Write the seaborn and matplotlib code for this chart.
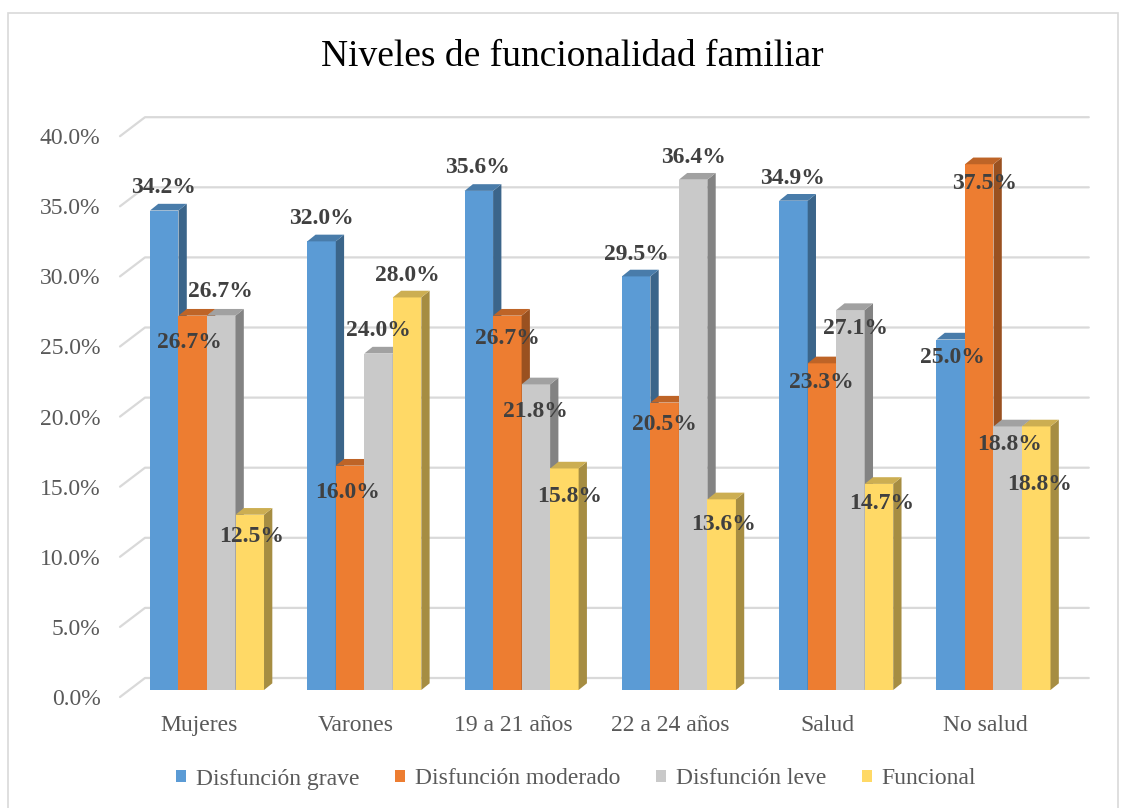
import pandas as pd
import seaborn as sns
import matplotlib.pyplot as plt
from matplotlib.patches import Polygon, Patch, Rectangle
from matplotlib.colors import to_rgb

grupos = ["Mujeres", "Varones", "19 a 21 años", "22 a 24 años", "Salud", "No salud"]
niveles = ["Disfunción grave", "Disfunción moderado", "Disfunción leve", "Funcional"]
grave = [34.2, 32.0, 35.6, 29.5, 34.9, 25.0]
moderado = [26.7, 16.0, 26.7, 20.5, 23.3, 37.5]
leve = [26.7, 24.0, 21.8, 36.4, 27.1, 18.8]
funcional = [12.5, 28.0, 15.8, 13.6, 14.7, 18.8]
y_ticks = [0, 5, 10, 15, 20, 25, 30, 35, 40]

colores = ["#5B9BD5", "#ED7D31", "#C9C9C9", "#FFD966"]

# where excel put each value label, in pixels from the bar top (group by group)
label_off = [
    (-1, 23), (-3, -27), (-1, 24), (2, -22),
    (0, 23), (-2, -27), (0, 23), (0, 22),
    (-1, 23), (0, -23), (0, -27), (5, -28),
    (0, 22), (0, -22), (0, 22), (2, -25),
    (-1, 22), (-1, -19), (5, -18), (3, -20),
    (2, -18), (5, -19), (2, -18), (3, -58),
]

df = pd.DataFrame({
    "Grupo": grupos * 4,
    "Nivel": sum([[n] * len(grupos) for n in niveles], []),
    "Porcentaje": grave + moderado + leve + funcional,
})

sns.set_style("white")
plt.rcParams["font.family"] = ["Liberation Serif", "DejaVu Serif"]

W, H = 1126, 808
fig = plt.figure(figsize=(W / 100, H / 100), dpi=100)

# pixel geometry of the fake 3d box
px_cat = 157.3   # px per category
px_pct = 14.02   # px per percent
ux, uy = 1 / px_cat, 1 / px_pct
bar_dx, bar_dy = 8.35 * ux, 7 * uy      # bars sit a bit behind the front plane
side_dx, side_dy = 8.3 * ux, 6.7 * uy   # bar depth
wall_dx, wall_dy = 25 * ux, 19 * uy     # back wall
ytop = 42

ax_w = (6 + wall_dx) * px_cat
ax_h = ytop * px_pct
ax = fig.add_axes([120 / W, (H - 697) / H, ax_w / W, ax_h / H])

sns.barplot(data=df, x="Grupo", y="Porcentaje", hue="Nivel", order=grupos,
            hue_order=niveles, palette=colores, saturation=1, width=0.725,
            linewidth=0, legend=False, ax=ax)

ax.set_xlim(-0.5, 5.5 + wall_dx)
ax.set_ylim(0, ytop)

# gridlines on the back wall + left side wall
for t in y_ticks:
    ax.plot([-0.5, -0.5 + wall_dx, 5.5 + wall_dx], [t, t + wall_dy, t + wall_dy],
            color="#D9D9D9", lw=1.6, zorder=0.5, clip_on=False)

bars = sorted([p for p in ax.patches if p.get_height() > 0], key=lambda p: p.get_x())
for i, p in enumerate(bars):
    x0 = p.get_x() + bar_dx
    w = p.get_width()
    h = p.get_height()
    p.set_x(x0)
    p.set_y(bar_dy)
    y1 = bar_dy + h
    base = to_rgb(p.get_facecolor())
    side_c = tuple(c * 0.65 for c in base)
    top_c = tuple(c * 0.8 for c in base)
    z = 3 + i * 3
    p.set_zorder(z)
    side = Polygon([(x0 + w, bar_dy), (x0 + w + side_dx, bar_dy + side_dy),
                    (x0 + w + side_dx, y1 + side_dy), (x0 + w, y1)],
                   closed=True, facecolor=side_c, lw=0, zorder=z + 1)
    top = Polygon([(x0, y1), (x0 + w, y1), (x0 + w + side_dx, y1 + side_dy),
                   (x0 + side_dx, y1 + side_dy)],
                  closed=True, facecolor=top_c, lw=0, zorder=z + 2)
    ax.add_patch(side)
    ax.add_patch(top)
    dx, dy = label_off[i]
    ax.annotate(f"{h:.1f}%", (x0 + w / 2, y1), xytext=(dx, dy),
                textcoords="offset pixels", ha="center", va="center",
                fontsize=17, fontweight="bold", color="#404040",
                zorder=200, annotation_clip=False)

ax.set_yticks(y_ticks)
ax.set_yticklabels([f"{t:.1f}%" for t in y_ticks])
ax.set_xticks(range(len(grupos)))
ax.set_xticklabels(grupos)
ax.tick_params(axis="y", length=0, pad=14, labelsize=17, labelcolor="#595959")
ax.tick_params(axis="x", length=0, pad=13, labelsize=17, labelcolor="#595959")
ax.set_xlabel("")
ax.set_ylabel("")
sns.despine(ax=ax, left=True, bottom=True)
ax.patch.set_alpha(0)

fig.text(572.5 / W, 1 - 57 / H, "Niveles de funcionalidad familiar",
         ha="center", va="center", fontsize=27, color="black")

handles = [Patch(facecolor=c, edgecolor="none") for c in colores]
fig.legend(handles, niveles, loc="center", bbox_to_anchor=(576 / W, 1 - 779 / H),
           ncol=4, frameon=False, fontsize=17, labelcolor="#595959",
           handlelength=0.45, handleheight=0.45, handletextpad=0.4,
           columnspacing=1.5)

fig.add_artist(Rectangle((8 / W, -0.01), (1118 - 8) / W, (H - 13) / H + 0.01,
                         transform=fig.transFigure, fill=False,
                         edgecolor="#D9D9D9", lw=1.2))

fig.savefig("out.png", dpi=100)
